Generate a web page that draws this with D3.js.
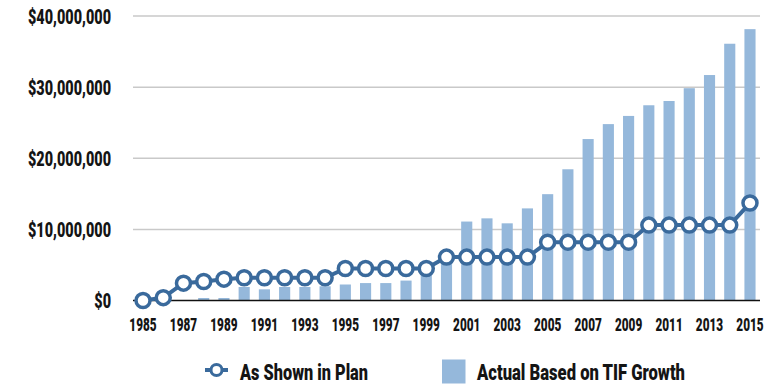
<!DOCTYPE html>
<html>
<head>
<meta charset="utf-8">
<script src="https://cdn.jsdelivr.net/npm/d3@7"></script>
<style>
  html, body { margin: 0; padding: 0; background: #fff; }
  svg { display: block; }
  text { font-family: Roboto, "Liberation Sans", sans-serif; font-weight: 900; fill: #141414; }
</style>
</head>
<body>
<svg id="chart" width="782" height="385"></svg>
<script>
// Fiscal years covered by the district
const years = d3.range(1985, 2016);

// Projected increment as laid out in the plan (dollars)
const planValues = [
  0, 400000, 2440000, 2670000, 3000000, 3190000, 3190000, 3190000, 3190000, 3190000,
  4500000, 4500000, 4500000, 4500000, 4500000, 6100000, 6100000, 6100000, 6100000, 6100000,
  8200000, 8200000, 8200000, 8200000, 8200000, 10600000, 10600000, 10600000, 10600000, 10600000,
  13700000
];

// Actual increment from TIF growth (dollars)
const actualValues = [
  0, 0, 0, 350000, 350000, 1900000, 1570000, 1900000, 1900000, 2000000,
  2250000, 2450000, 2450000, 2800000, 3900000, 5600000, 11100000, 11550000, 10850000, 12950000,
  14950000, 18450000, 22700000, 24800000, 25950000, 27450000, 28050000, 29850000, 31700000, 36100000,
  38150000
];

const yTicks = [0, 10000000, 20000000, 30000000, 40000000];
const xTickYears = years.filter(y => (y - 1985) % 2 === 0);

const legendLabels = ["As Shown in Plan", "Actual Based on TIF Growth"];

const lineColor = "#3a6a9c";
const barColor = "#95b8db";

const svg = d3.select("#chart");

const x = d3.scaleBand()
  .domain(years)
  .range([133, 760])
  .paddingInner(0.45)
  .paddingOuter(0.22);

const y = d3.scaleLinear()
  .domain([0, 40000000])
  .range([300.5, 16]);

// Horizontal gridlines
svg.append("g")
  .selectAll("line")
  .data(yTicks.filter(d => d > 0))
  .join("line")
  .attr("x1", 133).attr("x2", 760)
  .attr("y1", d => y(d)).attr("y2", d => y(d))
  .attr("stroke", "#c9c9c9")
  .attr("stroke-width", 1.5);

// Y axis labels (narrowed horizontally for a condensed look)
const yAxis = d3.axisLeft(y)
  .tickValues(yTicks)
  .tickSize(0)
  .tickPadding(0)
  .tickFormat(d3.format("$,.0f"));

const gy = svg.append("g")
  .attr("transform", "translate(111,0)")
  .call(yAxis);
gy.select(".domain").remove();
gy.attr("font-family", null).attr("font-size", null);
gy.selectAll("text")
  .attr("font-size", 19.5)
  .attr("dy", "0.36em")
  .attr("transform", "scale(0.74,1)");

// Bars
svg.append("g")
  .selectAll("rect")
  .data(years.map((yr, i) => ({ yr, v: actualValues[i] })))
  .join("rect")
  .attr("x", d => x(d.yr))
  .attr("width", x.bandwidth())
  .attr("y", d => y(d.v))
  .attr("height", d => y(0) - y(d.v))
  .attr("fill", barColor);

// Baseline
svg.append("line")
  .attr("x1", 133).attr("x2", 760)
  .attr("y1", y(0)).attr("y2", y(0))
  .attr("stroke", "#111")
  .attr("stroke-width", 1.5);

// X axis labels
const xAxis = d3.axisBottom(x)
  .tickValues(xTickYears)
  .tickSize(0)
  .tickPadding(0);

const gx = svg.append("g")
  .attr("transform", "translate(0,330.5)")
  .call(xAxis);
gx.select(".domain").remove();
gx.attr("font-family", null).attr("font-size", null);
gx.selectAll("text")
  .attr("font-size", 19)
  .attr("y", 0)
  .attr("dy", 0)
  .attr("transform", "scale(0.62,1)");

// Plan line with markers
const cx = d => x(d.yr) + x.bandwidth() / 2;
const planData = years.map((yr, i) => ({ yr, v: planValues[i] }));

svg.append("path")
  .datum(planData)
  .attr("fill", "none")
  .attr("stroke", lineColor)
  .attr("stroke-width", 4)
  .attr("d", d3.line().x(cx).y(d => y(d.v)));

svg.append("g")
  .selectAll("circle")
  .data(planData)
  .join("circle")
  .attr("cx", cx)
  .attr("cy", d => y(d.v))
  .attr("r", 7)
  .attr("fill", "#fff")
  .attr("stroke", lineColor)
  .attr("stroke-width", 3.5);

// Legend
const legend = svg.append("g");
legend.append("line")
  .attr("x1", 205).attr("x2", 228)
  .attr("y1", 370).attr("y2", 370)
  .attr("stroke", lineColor).attr("stroke-width", 4);
legend.append("circle")
  .attr("cx", 216.5).attr("cy", 370).attr("r", 5.5)
  .attr("fill", "#fff").attr("stroke", lineColor).attr("stroke-width", 3);
legend.append("text")
  .attr("x", 240).attr("y", 379.5)
  .attr("font-size", 21.5)
  .attr("textLength", 128)
  .attr("lengthAdjust", "spacingAndGlyphs")
  .text(legendLabels[0]);

legend.append("rect")
  .attr("x", 442).attr("y", 359.5)
  .attr("width", 23.5).attr("height", 24)
  .attr("fill", barColor);
legend.append("text")
  .attr("x", 477).attr("y", 379.5)
  .attr("font-size", 21.5)
  .attr("textLength", 208)
  .attr("lengthAdjust", "spacingAndGlyphs")
  .text(legendLabels[1]);
</script>
</body>
</html>
